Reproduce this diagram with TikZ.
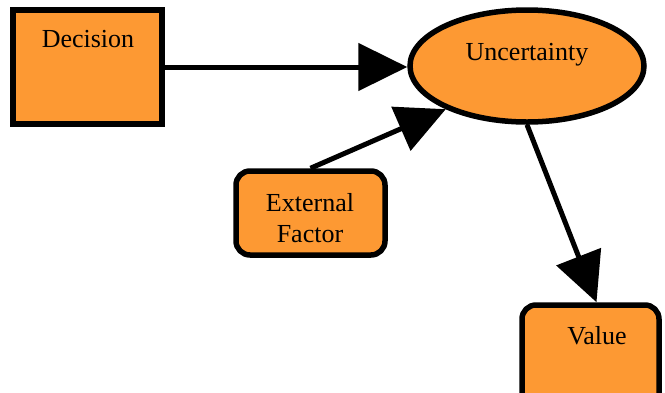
\documentclass[tikz,border=0pt]{standalone}
\usepackage{fontspec}
\setmainfont{Liberation Serif}
\usetikzlibrary{arrows.meta,shapes.geometric}
\definecolor{nodefill}{RGB}{253,153,51}
\begin{document}
\begin{tikzpicture}[x=1pt,y=-1pt,
  shapebox/.style={draw=black, line width=5.5pt, fill=nodefill, inner sep=0pt},
  roundbox/.style={shapebox, rounded corners=14pt},
  chance/.style={shapebox, ellipse},
  caption/.style={font=\fontsize{26}{31}\selectfont, anchor=base, inner sep=0pt},
  link/.style={line width=5pt, -{Triangle[length=49pt,width=47pt]}}]
\useasboundingbox (0,0) rectangle (665,392);
\clip (0,0) rectangle (665,392);

% nodes
\node[shapebox, minimum width=149pt, minimum height=114pt] (dec) at (87.5,67) {};
\node[chance, minimum width=234pt, minimum height=112pt] (unc) at (527,66) {};
\node[roundbox, minimum width=149pt, minimum height=84pt] (ext) at (310.5,213) {};
\node[roundbox, minimum width=137pt, minimum height=110pt] (val) at (590.5,360) {};

% labels
\node[caption] (decT) at (88,47) {Decision};
\node[caption] (uncT) at (527,60) {Uncertainty};
\node[caption] (extT1) at (310,211) {External};
\node[caption] (extT2) at (310,242) {Factor};
\node[caption] (valT) at (597,344) {Value};

% connectors
\draw[link] (dec.east) -- (dec.east -| unc.west);
\draw[link] (ext.north) -- (unc.208);
\draw[link] (unc.south) -- ([xshift=6pt]val.north);
\end{tikzpicture}
\end{document}
